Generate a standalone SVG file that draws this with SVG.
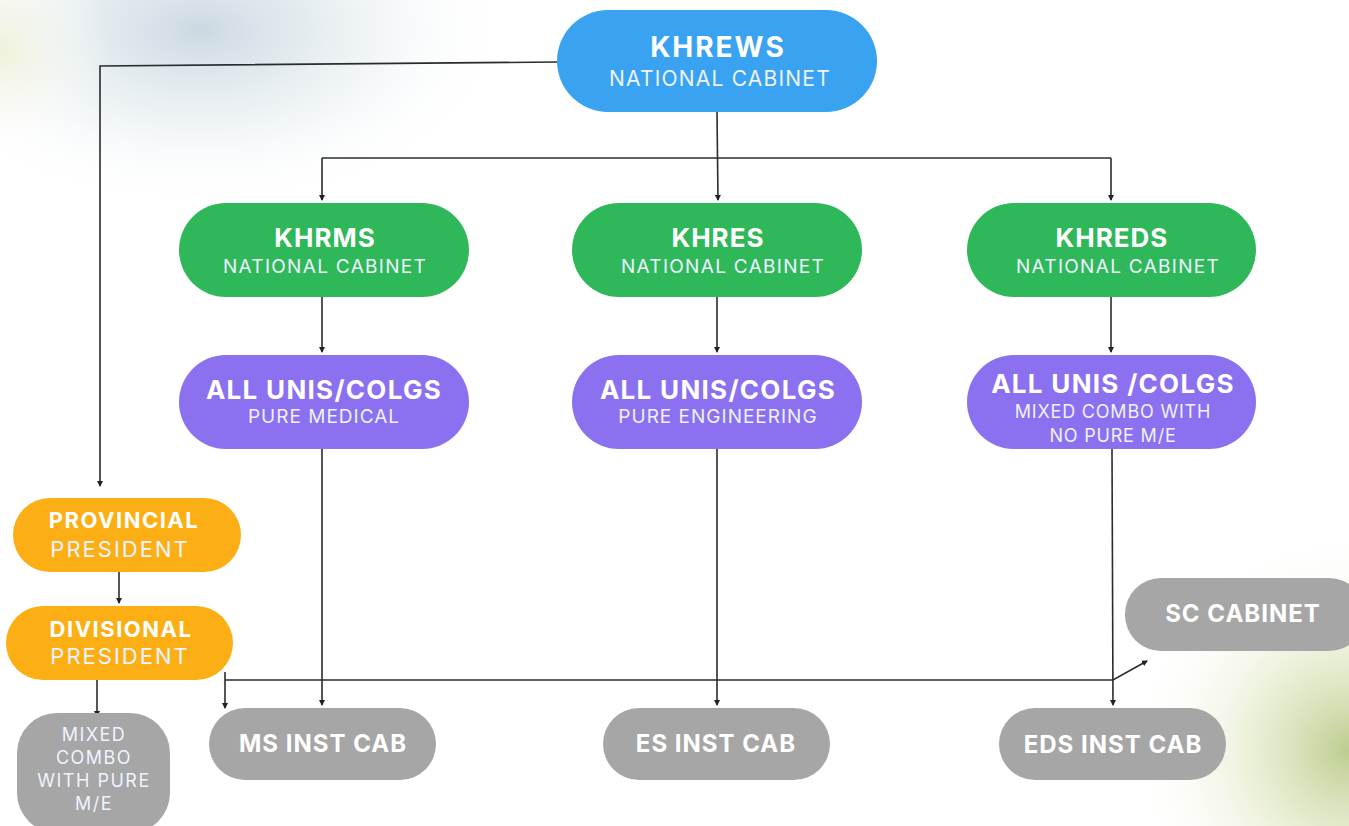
<svg xmlns="http://www.w3.org/2000/svg" width="1349" height="826" viewBox="0 0 1349 826">
<defs>
<radialGradient id="bgTL" cx="200" cy="30" r="240" gradientTransform="translate(200 30) scale(1.3 0.75) translate(-200 -30)" gradientUnits="userSpaceOnUse">
<stop offset="0" stop-color="#c6d4de" stop-opacity="0.9"/>
<stop offset="0.5" stop-color="#dfe8ec" stop-opacity="0.55"/>
<stop offset="1" stop-color="#ffffff" stop-opacity="0"/>
</radialGradient>
<radialGradient id="bgTL2" cx="0" cy="50" r="110" gradientUnits="userSpaceOnUse">
<stop offset="0" stop-color="#eef0d6" stop-opacity="0.9"/>
<stop offset="1" stop-color="#ffffff" stop-opacity="0"/>
</radialGradient>
<radialGradient id="bgBR" cx="1349" cy="750" r="220" gradientUnits="userSpaceOnUse">
<stop offset="0" stop-color="#b9c98a" stop-opacity="0.95"/>
<stop offset="0.45" stop-color="#dde6bd" stop-opacity="0.6"/>
<stop offset="1" stop-color="#ffffff" stop-opacity="0"/>
</radialGradient>
<marker id="arr" viewBox="0 0 6 6" refX="5" refY="3" markerWidth="6" markerHeight="6" markerUnits="userSpaceOnUse" orient="auto">
<path d="M0,0 L6,3 L0,6 z" fill="#222"/>
</marker>
<style>
.con{fill:none;stroke:#2b2b2b;stroke-width:1.6}
.t{font-family:Inter,"Liberation Sans",sans-serif;fill:#ffffff;text-anchor:middle}
.b{font-weight:700}
.s{fill:#eef3ff}
.blue{fill:#39a2f1}
.green{fill:#2fb85a}
.purple{fill:#8b70f0}
.orange{fill:#fcaf15}
.grey{fill:#a6a6a6}
</style>
</defs>
<rect width="1349" height="826" fill="#ffffff"/>
<rect width="1349" height="826" fill="url(#bgTL)"/>
<rect width="1349" height="826" fill="url(#bgTL2)"/>
<rect width="1349" height="826" fill="url(#bgBR)"/>

<g id="connectors">
<path class="con" d="M557,62 L100,66 L100,486" marker-end="url(#arr)"/>
<path class="con" d="M717,112 L718,200" marker-end="url(#arr)"/>
<path class="con" d="M322,158 L1111,158"/>
<path class="con" d="M322,158 L322,200" marker-end="url(#arr)"/>
<path class="con" d="M1111,158 L1111,200" marker-end="url(#arr)"/>
<path class="con" d="M322,297 L322,352" marker-end="url(#arr)"/>
<path class="con" d="M717,297 L717,352" marker-end="url(#arr)"/>
<path class="con" d="M1111,297 L1111,352" marker-end="url(#arr)"/>
<path class="con" d="M322,449 L322,705" marker-end="url(#arr)"/>
<path class="con" d="M717,449 L717,705" marker-end="url(#arr)"/>
<path class="con" d="M1112,449 L1113,705" marker-end="url(#arr)"/>
<path class="con" d="M119,565 L119,603" marker-end="url(#arr)"/>
<path class="con" d="M97,680 L97,716" marker-end="url(#arr)"/>
<path class="con" d="M225,672 L225,708" marker-end="url(#arr)"/>
<path class="con" d="M225,680 L1113,680 L1147,661" marker-end="url(#arr)"/>
</g>

<g id="khrews">
<rect class="blue" x="557" y="10" width="320" height="102" rx="51"/>
<text class="t b" x="718" y="57" font-size="28" letter-spacing="2">KHREWS</text>
<text class="t s" x="720" y="86" font-size="21" letter-spacing="1.2">NATIONAL CABINET</text>
</g>

<g id="khrms">
<rect class="green" x="179" y="203" width="290" height="94" rx="47"/>
<text class="t b" x="325" y="247" font-size="26" letter-spacing="1">KHRMS</text>
<text class="t s" x="325" y="273" font-size="19" letter-spacing="1.3">NATIONAL CABINET</text>
</g>
<g id="khres">
<rect class="green" x="572" y="203" width="290" height="94" rx="47"/>
<text class="t b" x="718" y="247" font-size="26" letter-spacing="1">KHRES</text>
<text class="t s" x="723" y="273" font-size="19" letter-spacing="1.3">NATIONAL CABINET</text>
</g>
<g id="khreds">
<rect class="green" x="967" y="203" width="289" height="94" rx="47"/>
<text class="t b" x="1112" y="247" font-size="26" letter-spacing="1">KHREDS</text>
<text class="t s" x="1118" y="273" font-size="19" letter-spacing="1.3">NATIONAL CABINET</text>
</g>

<g id="unis-medical">
<rect class="purple" x="179" y="355" width="290" height="94" rx="47"/>
<text class="t b" x="324" y="399" font-size="26" letter-spacing="1.3">ALL UNIS/COLGS</text>
<text class="t s" x="324" y="423" font-size="19" letter-spacing="1">PURE MEDICAL</text>
</g>
<g id="unis-engineering">
<rect class="purple" x="572" y="355" width="290" height="94" rx="47"/>
<text class="t b" x="718" y="399" font-size="26" letter-spacing="1.3">ALL UNIS/COLGS</text>
<text class="t s" x="718" y="423" font-size="19" letter-spacing="1">PURE ENGINEERING</text>
</g>
<g id="unis-mixed">
<rect class="purple" x="967" y="355" width="289" height="94" rx="47"/>
<text class="t b" x="1113" y="393" font-size="26" letter-spacing="1.3">ALL UNIS /COLGS</text>
<text class="t s" x="1113" y="418" font-size="18" letter-spacing="0.8">MIXED COMBO WITH</text>
<text class="t s" x="1113" y="442" font-size="18" letter-spacing="0.8">NO PURE M/E</text>
</g>

<g id="provincial">
<rect class="orange" x="13" y="498" width="228" height="74" rx="37"/>
<text class="t b" x="124" y="528" font-size="22" letter-spacing="1.5">PROVINCIAL</text>
<text class="t s" x="120" y="557" font-size="22" letter-spacing="2">PRESIDENT</text>
</g>
<g id="divisional">
<rect class="orange" x="6" y="606" width="227" height="74" rx="37"/>
<text class="t b" x="121" y="637" font-size="22" letter-spacing="1.5">DIVISIONAL</text>
<text class="t s" x="120" y="664" font-size="22" letter-spacing="2">PRESIDENT</text>
</g>

<g id="mixed-combo">
<rect class="grey" x="17" y="713" width="153" height="120" rx="40"/>
<text class="t s" x="94" y="741" font-size="18" letter-spacing="1.5">MIXED</text>
<text class="t s" x="94" y="764" font-size="18" letter-spacing="1.5">COMBO</text>
<text class="t s" x="94" y="787" font-size="18" letter-spacing="1.5">WITH PURE</text>
<text class="t s" x="94" y="810" font-size="18" letter-spacing="1.5">M/E</text>
</g>
<g id="ms-inst-cab">
<rect class="grey" x="209" y="708" width="227" height="72" rx="36"/>
<text class="t b" x="323" y="752" font-size="24" letter-spacing="1">MS INST CAB</text>
</g>
<g id="es-inst-cab">
<rect class="grey" x="603" y="708" width="227" height="72" rx="36"/>
<text class="t b" x="716" y="752" font-size="24" letter-spacing="1">ES INST CAB</text>
</g>
<g id="eds-inst-cab">
<rect class="grey" x="999" y="708" width="227" height="72" rx="36"/>
<text class="t b" x="1113" y="753" font-size="24" letter-spacing="1">EDS INST CAB</text>
</g>
<g id="sc-cabinet">
<rect class="grey" x="1125" y="578" width="240" height="73" rx="36"/>
<text class="t b" x="1243" y="622" font-size="24" letter-spacing="1">SC CABINET</text>
</g>
</svg>
